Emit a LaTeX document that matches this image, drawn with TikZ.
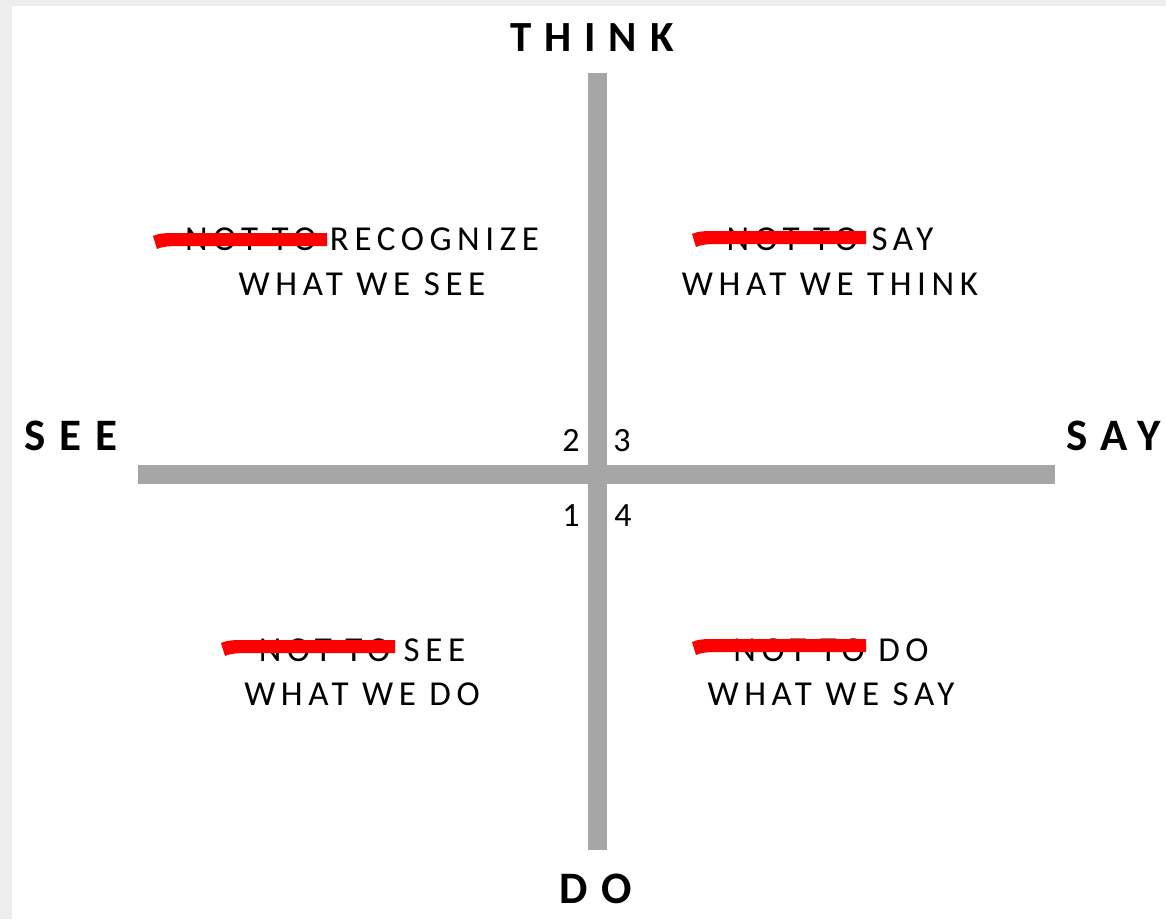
\documentclass[tikz,border=0pt]{standalone}
\usepackage{fontspec}
\setmainfont{Carlito}
\newfontfamily\quadfont[LetterSpace=16]{Carlito}
\newfontfamily\axisfont[LetterSpace=30]{Carlito}
\usetikzlibrary{positioning}
\definecolor{barGray}{HTML}{A6A6A6}
\definecolor{frameGray}{HTML}{EDEDED}

\begin{document}
\begin{tikzpicture}[x=1pt, y=-1pt,
  bar/.style={draw=barGray, line width=19pt},
  axis/.style={font=\axisfont\bfseries\fontsize{45}{50}\selectfont, anchor=base, inner sep=0pt},
  quad/.style={font=\quadfont\fontsize{35}{42}\selectfont, anchor=base, inner sep=0pt},
  num/.style={font=\fontsize{34}{40}\selectfont, anchor=base, inner sep=0pt},
  strike/.pic={\fill[red] (0,-4) .. controls (6,-7) and (14,-7) .. (24,-7) -- (174,-7) -- (174,6) -- (26,6) .. controls (14,6) and (8,7) .. (4,9) -- cycle;}]
  \useasboundingbox (0,0) rectangle (1166,919);
  \fill[frameGray] (0,0) rectangle (1166,919);
  \fill[white] (12,6) rectangle (1166,919);

  \coordinate (top) at (597,73);
  \coordinate (bottom) at (597,850);
  \coordinate (left) at (138,474);
  \coordinate (right) at (1055,474);
  \draw[bar] (left) -- (right);
  \draw[bar] (top) -- (bottom);

  \node[axis, font=\axisfont\bfseries\fontsize{43}{48}\selectfont] (think) at (592,51) {THINK};
  \node[axis] (see) at (71,450) {SEE};
  \node[axis, anchor=base west] (say) at (1066,450) {SAY};
  \node[axis] (do) at (596,903) {DO};

  \node[num] (n2) at (571,451) {2};
  \node[num] (n3) at (622,451) {3};
  \node[num] (n1) at (571,526) {1};
  \node[num] (n4) at (623,526) {4};

  \node[quad] (tl1) at (362,250) {NOT TO RECOGNIZE};
  \node[quad] (tl2) at (362,295) {WHAT WE SEE};
  \node[quad] (tr1) at (830,250) {NOT TO SAY};
  \node[quad] (tr2) at (830,295) {WHAT WE THINK};
  \node[quad] (bl1) at (362,661) {NOT TO SEE};
  \node[quad] (bl2) at (362,705) {WHAT WE DO};
  \node[quad] (br1) at (831,661) {NOT TO DO};
  \node[quad] (br2) at (831,705) {WHAT WE SAY};

  \pic at (153,240) {strike};
  \pic at (692,238) {strike};
  \pic at (221,647) {strike};
  \pic at (692,646) {strike};
\end{tikzpicture}
\end{document}
